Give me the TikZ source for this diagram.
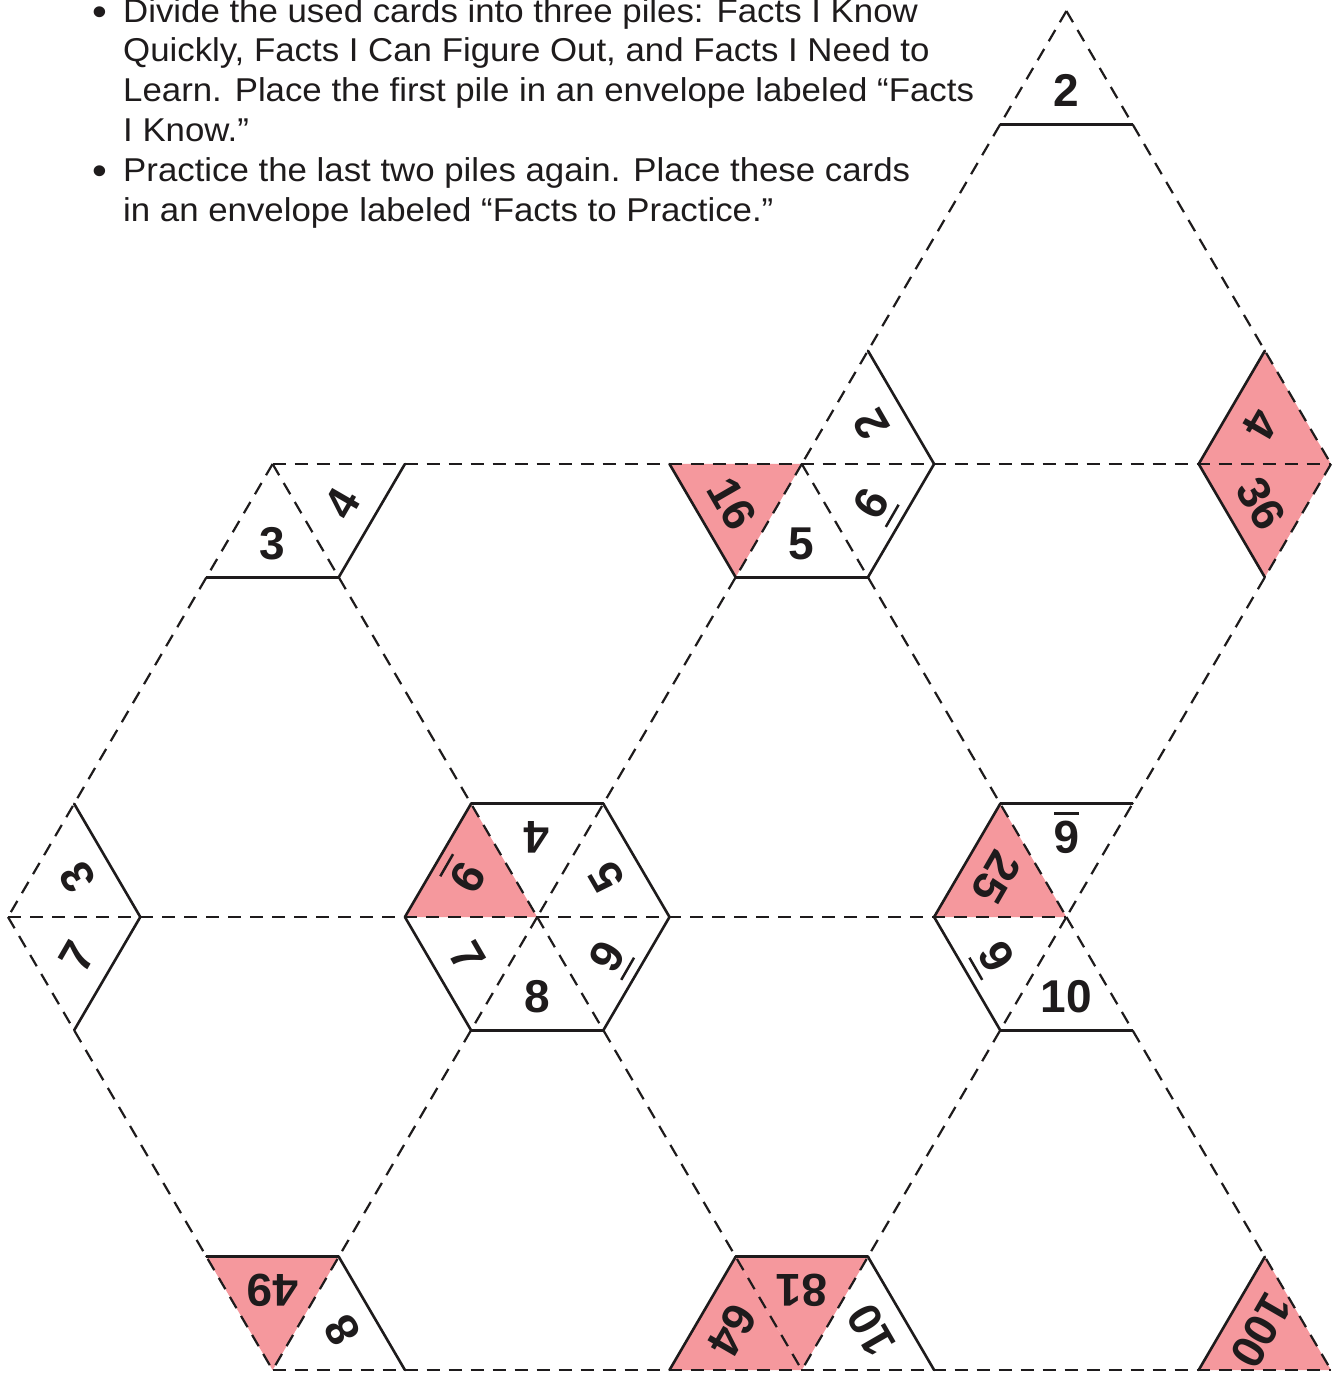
\documentclass[tikz,border=0pt]{standalone}
\usepackage{fontspec}
\setmainfont{Liberation Sans}
\newfontfamily\bodyfont[FakeStretch=1.055]{Liberation Sans}
\newfontfamily\numfont{Liberation Sans}
\usetikzlibrary{calc}
\definecolor{cardpink}{RGB}{245,152,157}
\definecolor{inkc}{RGB}{30,27,28}
\newcommand{\ulnum}[1]{\setbox0\hbox{#1}\leavevmode\rlap{\smash{\rule[-9.5pt]{\wd0}{2.5pt}}}\box0}
\newcommand{\cardpts}[4]{\coordinate (#1a) at ($(#2)+#3$); \coordinate (#1b) at ($(#2)+#4$);}
\begin{document}
\begin{tikzpicture}[
  x={(529.2pt,0pt)}, y={(264.6pt,453pt)},
  dashline/.style={line width=2.2pt, dash pattern=on 13pt off 9pt, draw=inkc},
  edge/.style={line width=2.6pt, draw=inkc, line cap=round, line join=round},
  num/.style={font=\numfont\bfseries\fontsize{46}{46}\selectfont, inner sep=0pt, text=inkc},
  body/.style={font=\bodyfont\fontsize{33}{40}\selectfont, anchor=base west, inner sep=0pt, text=inkc},
  bullet/.style={font=\bodyfont\fontsize{40}{40}\selectfont, anchor=base, inner sep=0pt, text=inkc},
]
% page frame: top-left of page is (-8pt,917pt) relative to lattice origin
\coordinate (O) at (-8pt,917pt);
\useasboundingbox (O) rectangle ($(O)+(1341pt,-1374pt)$);
\fill[white] (O) rectangle ($(O)+(1341pt,-1374pt)$);

% instructions
\node[bullet] (b1) at ($(O)+(100pt,-26pt)$) {•};
\node[body] (l1) at ($(O)+(123pt,-23pt)$) {Divide the used cards into three piles: Facts I Know};
\node[body] (l2) at ($(O)+(123pt,-62pt)$) {Quickly, Facts I Can Figure Out, and Facts I Need to};
\node[body] (l3) at ($(O)+(123pt,-102pt)$) {Learn. Place the first pile in an envelope labeled “Facts};
\node[body] (l4) at ($(O)+(123pt,-142pt)$) {I Know.”};
\node[bullet] (b2) at ($(O)+(100pt,-185pt)$) {•};
\node[body] (l5) at ($(O)+(123pt,-182pt)$) {Practice the last two piles again. Place these cards};
\node[body] (l6) at ($(O)+(123pt,-222pt)$) {in an envelope labeled “Facts to Practice.”};

% lattice vertices
\coordinate (T) at (1,2);
\coordinate (P1) at (0,1);
\coordinate (P2) at (1,1);
\coordinate (P3) at (2,1);
\coordinate (Q1) at (0,0);
\coordinate (Q2) at (1,0);
\coordinate (Q3) at (2,0);
\coordinate (R1) at (1,-1);
\coordinate (R2) at (2,-1);
\coordinate (R3) at (3,-1);

% card corner points (sector vectors)
\cardpts{c1}{T}{(0,-0.25)}{(0.25,-0.25)}
\cardpts{c2}{P1}{(0,-0.25)}{(0.25,-0.25)}
\cardpts{c3}{P1}{(0.25,-0.25)}{(0.25,0)}
\cardpts{c4}{P2}{(0.25,0)}{(0,0.25)}
\cardpts{c5}{P2}{(0.25,-0.25)}{(0.25,0)}
\cardpts{c6}{P2}{(0,-0.25)}{(0.25,-0.25)}
\cardpts{c7}{P2}{(-0.25,0)}{(0,-0.25)}
\cardpts{c8}{P3}{(-0.25,0.25)}{(-0.25,0)}
\cardpts{c9}{P3}{(-0.25,0)}{(0,-0.25)}
\cardpts{c10}{Q1}{(0.25,0)}{(0,0.25)}
\cardpts{c11}{Q1}{(0.25,-0.25)}{(0.25,0)}
\cardpts{c12}{Q2}{(-0.25,0.25)}{(-0.25,0)}
\cardpts{c13}{Q2}{(0,0.25)}{(-0.25,0.25)}
\cardpts{c14}{Q2}{(0.25,0)}{(0,0.25)}
\cardpts{c15}{Q2}{(0.25,-0.25)}{(0.25,0)}
\cardpts{c16}{Q2}{(0,-0.25)}{(0.25,-0.25)}
\cardpts{c17}{Q2}{(-0.25,0)}{(0,-0.25)}
\cardpts{c18}{Q3}{(-0.25,0.25)}{(-0.25,0)}
\cardpts{c19}{Q3}{(0,0.25)}{(-0.25,0.25)}
\cardpts{c20}{Q3}{(0,-0.25)}{(0.25,-0.25)}
\cardpts{c21}{Q3}{(-0.25,0)}{(0,-0.25)}
\cardpts{c22}{R1}{(0,0.25)}{(-0.25,0.25)}
\cardpts{c23}{R1}{(0.25,0)}{(0,0.25)}
\cardpts{c24}{R2}{(-0.25,0.25)}{(-0.25,0)}
\cardpts{c25}{R2}{(0,0.25)}{(-0.25,0.25)}
\cardpts{c26}{R2}{(0.25,0)}{(0,0.25)}
\cardpts{c27}{R3}{(-0.25,0.25)}{(-0.25,0)}

% pink product cards
\fill[cardpink] (P2) -- (c7a) -- (c7b) -- cycle;
\fill[cardpink] (P3) -- (c8a) -- (c8b) -- cycle;
\fill[cardpink] (P3) -- (c9a) -- (c9b) -- cycle;
\fill[cardpink] (Q2) -- (c12a) -- (c12b) -- cycle;
\fill[cardpink] (Q3) -- (c18a) -- (c18b) -- cycle;
\fill[cardpink] (R1) -- (c22a) -- (c22b) -- cycle;
\fill[cardpink] (R2) -- (c24a) -- (c24b) -- cycle;
\fill[cardpink] (R2) -- (c25a) -- (c25b) -- cycle;
\fill[cardpink] (R3) -- (c27a) -- (c27b) -- cycle;

% dashed fold lines
\draw[dashline] (T) -- (P2);
\draw[dashline] (T) -- (P3);
\draw[dashline] (P1) -- (P3);
\draw[dashline] (P1) -- (Q1);
\draw[dashline] (P1) -- (Q2);
\draw[dashline] (P2) -- (Q2);
\draw[dashline] (P2) -- (Q3);
\draw[dashline] (P3) -- (Q3);
\draw[dashline] (Q1) -- (Q3);
\draw[dashline] (Q1) -- (R1);
\draw[dashline] (Q2) -- (R1);
\draw[dashline] (Q2) -- (R2);
\draw[dashline] (Q3) -- (R2);
\draw[dashline] (Q3) -- (R3);
\draw[dashline] (R1) -- (R3);

% solid outer edges of the cards
\foreach \c in {c1,c2,c3,c4,c5,c6,c7,c8,c9,c10,c11,c12,c13,c14,c15,c16,c17,c18,c19,c20,c21,c22,c23,c24,c25,c26,c27}
  \draw[edge] (\c a) -- (\c b);

% numbers
\node[num, rotate=0]   (c1)  at (barycentric cs:T=0.85,c1a=1,c1b=1) {2};
\node[num, rotate=0]   (c2)  at (barycentric cs:P1=0.85,c2a=1,c2b=1) {3};
\node[num, rotate=60]  (c3)  at (barycentric cs:P1=0.85,c3a=1,c3b=1) {4};
\node[num, rotate=120] (c4)  at (barycentric cs:P2=0.85,c4a=1,c4b=1) {2};
\node[num, rotate=60]  (c5)  at (barycentric cs:P2=0.85,c5a=1,c5b=1) {\ulnum{6}};
\node[num, rotate=0]   (c6)  at (barycentric cs:P2=0.85,c6a=1,c6b=1) {5};
\node[num, rotate=300] (c7)  at (barycentric cs:P2=0.85,c7a=1,c7b=1) {16};
\node[num, rotate=240] (c8)  at (barycentric cs:P3=0.85,c8a=1,c8b=1) {4};
\node[num, rotate=300] (c9)  at (barycentric cs:P3=0.85,c9a=1,c9b=1) {36};
\node[num, rotate=120] (c10) at (barycentric cs:Q1=0.85,c10a=1,c10b=1) {3};
\node[num, rotate=60]  (c11) at (barycentric cs:Q1=0.85,c11a=1,c11b=1) {7};
\node[num, rotate=240] (c12) at (barycentric cs:Q2=0.85,c12a=1,c12b=1) {\ulnum{9}};
\node[num, rotate=180] (c13) at (barycentric cs:Q2=0.85,c13a=1,c13b=1) {4};
\node[num, rotate=120] (c14) at (barycentric cs:Q2=0.85,c14a=1,c14b=1) {5};
\node[num, rotate=60]  (c15) at (barycentric cs:Q2=0.85,c15a=1,c15b=1) {\ulnum{9}};
\node[num, rotate=0]   (c16) at (barycentric cs:Q2=0.85,c16a=1,c16b=1) {8};
\node[num, rotate=300] (c17) at (barycentric cs:Q2=0.85,c17a=1,c17b=1) {7};
\node[num, rotate=240] (c18) at (barycentric cs:Q3=0.85,c18a=1,c18b=1) {25};
\node[num, rotate=180] (c19) at (barycentric cs:Q3=0.85,c19a=1,c19b=1) {\ulnum{6}};
\node[num, rotate=0]   (c20) at (barycentric cs:Q3=0.85,c20a=1,c20b=1) {10};
\node[num, rotate=300] (c21) at (barycentric cs:Q3=0.85,c21a=1,c21b=1) {\ulnum{9}};
\node[num, rotate=180] (c22) at (barycentric cs:R1=0.85,c22a=1,c22b=1) {49};
\node[num, rotate=120] (c23) at (barycentric cs:R1=0.85,c23a=1,c23b=1) {8};
\node[num, rotate=240] (c24) at (barycentric cs:R2=0.85,c24a=1,c24b=1) {64};
\node[num, rotate=180] (c25) at (barycentric cs:R2=0.85,c25a=1,c25b=1) {81};
\node[num, rotate=120] (c26) at (barycentric cs:R2=0.85,c26a=1,c26b=1) {10};
\node[num, rotate=240] (c27) at (barycentric cs:R3=0.85,c27a=1,c27b=1) {100};
\end{tikzpicture}
\end{document}
